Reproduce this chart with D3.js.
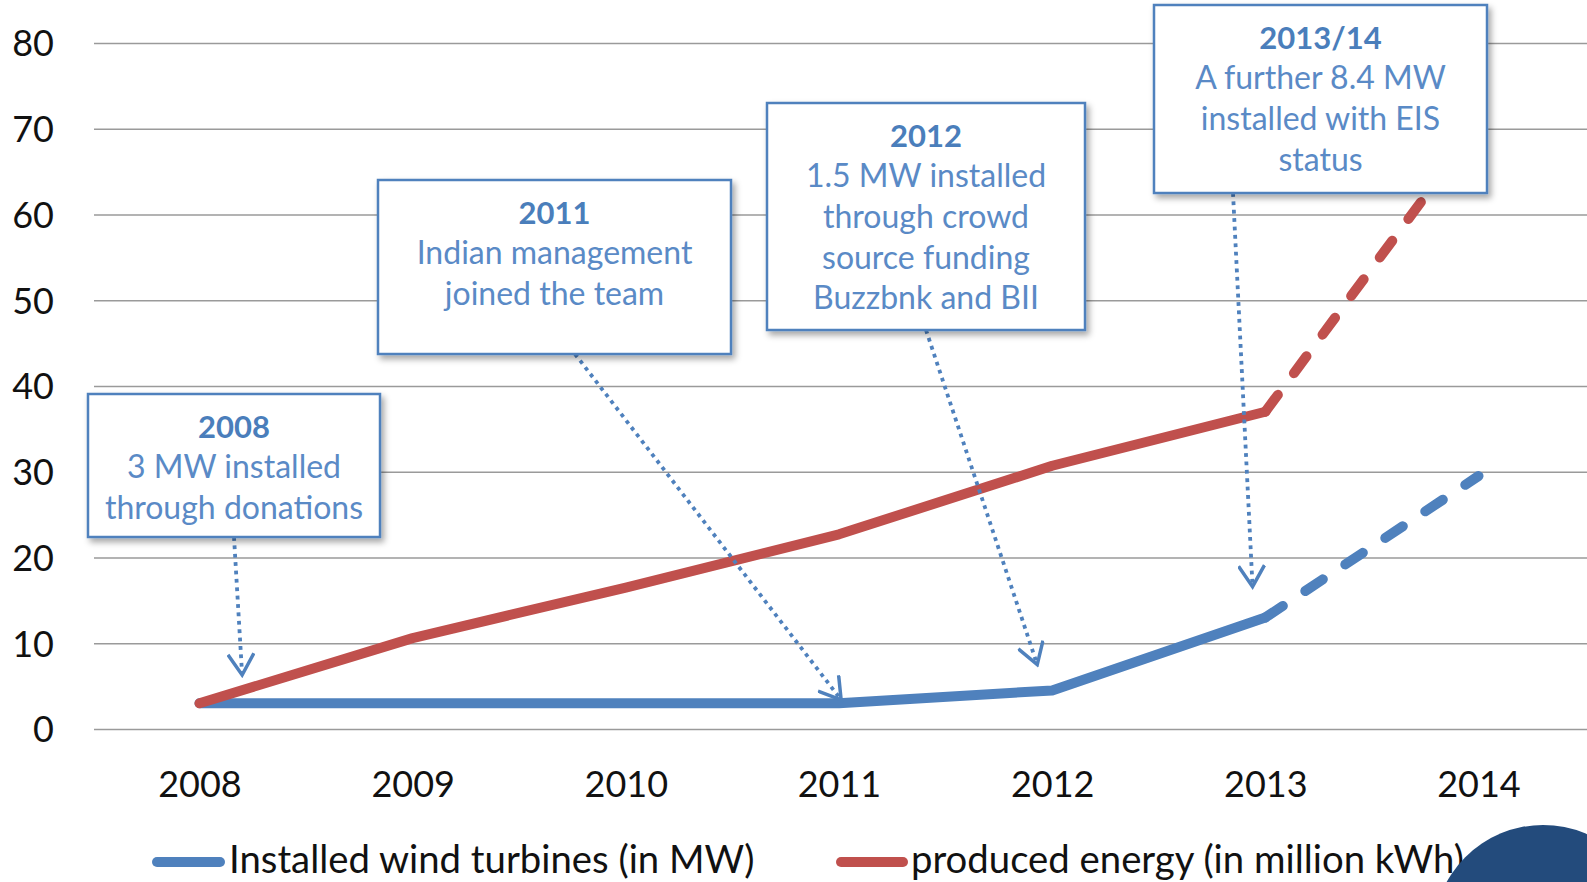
<!DOCTYPE html>
<html>
<head>
<meta charset="utf-8">
<script src="https://cdn.jsdelivr.net/npm/d3@7"></script>
<style>
  html, body { margin: 0; padding: 0; background: #fff; overflow: hidden; }
  svg { display: block; font-family: Lato, "Open Sans", sans-serif; }
</style>
</head>
<body>
<svg width="1587" height="882"></svg>
<script>
// chart data
const years = ['2008', '2009', '2010', '2011', '2012', '2013', '2014'];
const installedMW = [3, 3, 3, 3, 4.5, 13, 29.5];
const producedEnergy = [3, 10.6, 16.5, 22.7, 30.7, 37, 70.5];
const forecastFrom = 5; // segments after 2013 are projections (dashed)
const yTicks = [0, 10, 20, 30, 40, 50, 60, 70, 80];
const seriesNames = ['Installed wind turbines (in MW)', 'produced energy (in million kWh)'];

// annotation texts
const noteTitles = ['2008', '2011', '2012', '2013/14'];
const noteLines = [
  ['3 MW installed', 'through donations'],
  ['Indian management', 'joined the team'],
  ['1.5 MW installed', 'through crowd', 'source funding', 'Buzzbnk and BII'],
  ['A further 8.4 MW', 'installed with EIS', 'status']
];
// where each arrow points, in (year, value)
const noteTargetYear = [2008.2, 2011.01, 2011.93, 2012.94];
const noteTargetValue = [6.3, 3.4, 7.5, 16.6];

const blue = '#4f81bd', red = '#c0504d';

const svg = d3.select('svg');
const W = 1587, H = 882;

const x = d3.scalePoint().domain(years).range([199.5, 1478.5]);
const xYear = d3.scaleLinear().domain([2008, 2014]).range([199.5, 1478.5]);
const y = d3.scaleLinear().domain([0, 80]).range([729, 43]);

const defs = svg.append('defs');
const shadow = defs.append('filter').attr('id', 'shadow')
  .attr('x', '-10%').attr('y', '-10%').attr('width', '130%').attr('height', '130%');
shadow.append('feDropShadow')
  .attr('dx', 3).attr('dy', 4).attr('stdDeviation', 3)
  .attr('flood-color', '#000').attr('flood-opacity', 0.35);

defs.append('marker').attr('id', 'vhead')
  .attr('markerUnits', 'userSpaceOnUse')
  .attr('viewBox', '0 0 26 28').attr('refX', 23).attr('refY', 14)
  .attr('markerWidth', 26).attr('markerHeight', 28)
  .attr('orient', 'auto')
  .append('path')
  .attr('d', 'M2,1 L23,14 L2,27')
  .attr('fill', 'none').attr('stroke', blue).attr('stroke-width', 3.5);

// grid
const yAxis = d3.axisLeft(y).tickValues(yTicks).tickSize(-(W - 94)).tickFormat(d3.format('d'));
svg.append('g')
  .attr('transform', 'translate(94,0)')
  .call(yAxis)
  .call(g => g.select('.domain').remove())
  .call(g => g.selectAll('.tick line').attr('stroke', '#9a9a9a').attr('stroke-width', 1.6))
  .call(g => g.selectAll('.tick text')
    .attr('x', -40).attr('dy', '0.36em')
    .attr('fill', '#111').attr('font-size', 36).attr('font-family', 'Lato, sans-serif'));

// x labels
const xAxis = d3.axisBottom(x).tickSize(0).tickPadding(0);
svg.append('g')
  .attr('transform', 'translate(0,797)')
  .call(xAxis)
  .call(g => g.select('.domain').remove())
  .call(g => g.selectAll('.tick text')
    .attr('y', 0).attr('dy', 0)
    .attr('fill', '#111').attr('font-size', 36).attr('font-family', 'Lato, sans-serif'));

// series lines
const line = d3.line().x(d => x(d.year)).y(d => y(d.v));
function drawSeries(values, color) {
  const pts = years.map((yr, i) => ({ year: yr, v: values[i] }));
  svg.append('path')
    .attr('d', line(pts.slice(0, forecastFrom + 1)))
    .attr('fill', 'none').attr('stroke', color).attr('stroke-width', 10)
    .attr('stroke-linejoin', 'round').attr('stroke-linecap', 'round');
  svg.append('path')
    .attr('d', line(pts.slice(forecastFrom)))
    .attr('fill', 'none').attr('stroke', color).attr('stroke-width', 10)
    .attr('stroke-dasharray', '21,27')
    .attr('stroke-linecap', 'round');
}
drawSeries(installedMW, blue);
drawSeries(producedEnergy, red);

// annotation boxes: layout
const boxes = [
  { x: 88, y: 394, w: 292, h: 143, sx: 234, sy: 537 },
  { x: 378, y: 180, w: 353, h: 174, sx: 575, sy: 354 },
  { x: 767, y: 103, w: 318, h: 227, sx: 926, sy: 330 },
  { x: 1154, y: 5, w: 333, h: 188, sx: 1233, sy: 193 }
];

// arrows
svg.append('g').selectAll('line')
  .data(boxes)
  .join('line')
  .attr('x1', d => d.sx).attr('y1', d => d.sy)
  .attr('x2', (d, i) => xYear(noteTargetYear[i]))
  .attr('y2', (d, i) => y(noteTargetValue[i]))
  .attr('stroke', blue).attr('stroke-width', 3.8)
  .attr('stroke-dasharray', '3.8,4.6')
  .attr('marker-end', 'url(#vhead)');

const notes = svg.append('g').selectAll('g')
  .data(boxes)
  .join('g');

notes.append('rect')
  .attr('x', d => d.x).attr('y', d => d.y)
  .attr('width', d => d.w).attr('height', d => d.h)
  .attr('fill', '#fff').attr('stroke', blue).attr('stroke-width', 2.5)
  .attr('filter', 'url(#shadow)');

notes.each(function (d, i) {
  const g = d3.select(this);
  const cx = d.x + d.w / 2;
  g.append('text')
    .attr('x', cx).attr('y', d.y + 43.5)
    .attr('text-anchor', 'middle')
    .attr('font-size', 31).attr('font-weight', 'bold')
    .attr('fill', '#4a7ebb')
    .text(noteTitles[i]);
  noteLines[i].forEach((t, j) => {
    g.append('text')
      .attr('x', cx).attr('y', d.y + 43.5 + 40.7 * (j + 1))
      .attr('text-anchor', 'middle')
      .attr('font-size', 32)
      .attr('fill', '#5a8ac6')
      .text(t);
  });
});

// legend
const legend = svg.append('g');
const legendItems = [
  { x1: 157, x2: 220, tx: 229, color: blue },
  { x1: 841, x2: 903, tx: 911, color: red }
];
legendItems.forEach((it, i) => {
  legend.append('line')
    .attr('x1', it.x1).attr('x2', it.x2).attr('y1', 862).attr('y2', 862)
    .attr('stroke', it.color).attr('stroke-width', 10).attr('stroke-linecap', 'round');
  legend.append('text')
    .attr('x', it.tx).attr('y', 873)
    .attr('font-size', 38.3).attr('fill', '#111')
    .text(seriesNames[i]);
});

// corner decoration
svg.append('circle')
  .attr('cx', 1543).attr('cy', 935).attr('r', 110)
  .attr('fill', '#234b7c');
</script>
</body>
</html>
